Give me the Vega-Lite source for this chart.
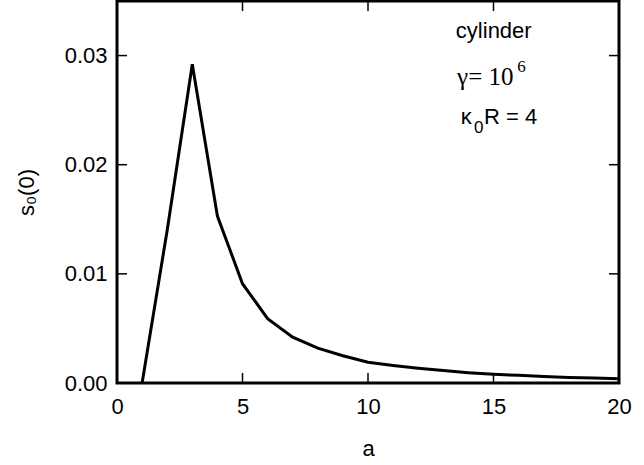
{
  "$schema": "https://vega.github.io/schema/vega-lite/v6.json",
  "width": 502,
  "height": 382,
  "autosize": {"type": "none"},
  "padding": {"left": 117, "top": 1, "right": 25, "bottom": 82},
  "background": "white",
  "config": {
    "view": {"stroke": "black", "strokeWidth": 3},
    "axis": {
      "domain": false,
      "grid": false,
      "ticks": false,
      "labelFont": "Liberation Sans",
      "labelFontSize": 22,
      "labelColor": "black",
      "titleFont": "Liberation Sans",
      "titleFontSize": 22,
      "titleFontWeight": "normal",
      "titleColor": "black",
      "labelOverlap": false,
      "labelFlush": false
    }
  },
  "datasets": {
    "curve": [
      {"a": 1, "s": 0},
      {"a": 2, "s": 0.0140},
      {"a": 3, "s": 0.0292},
      {"a": 4, "s": 0.0153},
      {"a": 5, "s": 0.0091},
      {"a": 6, "s": 0.0059},
      {"a": 7, "s": 0.0042},
      {"a": 8, "s": 0.0032},
      {"a": 9, "s": 0.0025},
      {"a": 10, "s": 0.0019},
      {"a": 11, "s": 0.0016},
      {"a": 12, "s": 0.00135},
      {"a": 13, "s": 0.00115},
      {"a": 14, "s": 0.00095},
      {"a": 15, "s": 0.0008},
      {"a": 16, "s": 0.0007},
      {"a": 17, "s": 0.0006},
      {"a": 18, "s": 0.0005},
      {"a": 19, "s": 0.00045},
      {"a": 20, "s": 0.0004}
    ],
    "xticks": [{"a": 5}, {"a": 10}, {"a": 15}],
    "yticks": [{"s": 0.01}, {"s": 0.02}, {"s": 0.03}],
    "sansNotes": [
      {"label": "cylinder", "a": 13.5, "s": 0.0316},
      {"label": "κ", "a": 13.7, "s": 0.0237},
      {"label": "R = 4", "a": 14.62, "s": 0.0237}
    ],
    "serifNotes": [
      {"label": "γ= 10", "a": 13.55, "s": 0.0273}
    ],
    "smallSerif": [
      {"label": "6", "a": 15.95, "s": 0.0285}
    ],
    "smallSans": [
      {"label": "0", "a": 14.22, "s": 0.0229}
    ]
  },
  "layer": [
    {
      "data": {"name": "curve"},
      "mark": {"type": "line", "color": "black", "strokeWidth": 3, "strokeJoin": "miter"},
      "encoding": {
        "x": {
          "field": "a", "type": "quantitative",
          "scale": {"domain": [0, 20], "nice": false, "zero": false},
          "axis": {"orient": "bottom", "values": [0, 5, 10, 15, 20], "labelPadding": 13, "title": "a", "titlePadding": 21}
        },
        "y": {
          "field": "s", "type": "quantitative",
          "scale": {"domain": [0, 0.035], "nice": false},
          "axis": {"orient": "left", "values": [0, 0.01, 0.02, 0.03], "format": ".2f", "labelPadding": 10, "title": "s₀(0)", "titlePadding": 26}
        }
      }
    },
    {
      "data": {"name": "xticks"},
      "mark": {"type": "rule", "color": "black", "strokeWidth": 1.5},
      "encoding": {
        "x": {"field": "a", "type": "quantitative",
          "axis": {"orient": "bottom", "values": [0, 5, 10, 15, 20], "labelPadding": 13, "title": "a", "titlePadding": 21}},
        "y": {"datum": 0, "type": "quantitative",
          "axis": {"orient": "left", "values": [0, 0.01, 0.02, 0.03], "format": ".2f", "labelPadding": 10, "title": "s₀(0)", "titlePadding": 26}},
        "y2": {"datum": 0.00092}
      }
    },
    {
      "data": {"name": "xticks"},
      "mark": {"type": "rule", "color": "black", "strokeWidth": 1.5},
      "encoding": {
        "x": {"field": "a", "type": "quantitative",
          "axis": {"orient": "bottom", "values": [0, 5, 10, 15, 20], "labelPadding": 13, "title": "a", "titlePadding": 21}},
        "y": {"datum": 0.035, "type": "quantitative",
          "axis": {"orient": "left", "values": [0, 0.01, 0.02, 0.03], "format": ".2f", "labelPadding": 10, "title": "s₀(0)", "titlePadding": 26}},
        "y2": {"datum": 0.03408}
      }
    },
    {
      "data": {"name": "yticks"},
      "mark": {"type": "rule", "color": "black", "strokeWidth": 1.5},
      "encoding": {
        "y": {"field": "s", "type": "quantitative",
          "axis": {"orient": "left", "values": [0, 0.01, 0.02, 0.03], "format": ".2f", "labelPadding": 10, "title": "s₀(0)", "titlePadding": 26}},
        "x": {"datum": 0, "type": "quantitative",
          "axis": {"orient": "bottom", "values": [0, 5, 10, 15, 20], "labelPadding": 13, "title": "a", "titlePadding": 21}},
        "x2": {"datum": 0.4}
      }
    },
    {
      "data": {"name": "yticks"},
      "mark": {"type": "rule", "color": "black", "strokeWidth": 1.5},
      "encoding": {
        "y": {"field": "s", "type": "quantitative",
          "axis": {"orient": "left", "values": [0, 0.01, 0.02, 0.03], "format": ".2f", "labelPadding": 10, "title": "s₀(0)", "titlePadding": 26}},
        "x": {"datum": 20, "type": "quantitative",
          "axis": {"orient": "bottom", "values": [0, 5, 10, 15, 20], "labelPadding": 13, "title": "a", "titlePadding": 21}},
        "x2": {"datum": 19.6}
      }
    },
    {
      "data": {"name": "sansNotes"},
      "mark": {"type": "text", "align": "left", "baseline": "alphabetic", "font": "Liberation Sans", "fontSize": 22, "color": "black"},
      "encoding": {
        "x": {"field": "a", "type": "quantitative",
          "axis": {"orient": "bottom", "values": [0, 5, 10, 15, 20], "labelPadding": 13, "title": "a", "titlePadding": 21}},
        "y": {"field": "s", "type": "quantitative",
          "axis": {"orient": "left", "values": [0, 0.01, 0.02, 0.03], "format": ".2f", "labelPadding": 10, "title": "s₀(0)", "titlePadding": 26}},
        "text": {"field": "label"}
      }
    },
    {
      "data": {"name": "serifNotes"},
      "mark": {"type": "text", "align": "left", "baseline": "alphabetic", "font": "Liberation Serif", "fontSize": 25, "color": "black"},
      "encoding": {
        "x": {"field": "a", "type": "quantitative",
          "axis": {"orient": "bottom", "values": [0, 5, 10, 15, 20], "labelPadding": 13, "title": "a", "titlePadding": 21}},
        "y": {"field": "s", "type": "quantitative",
          "axis": {"orient": "left", "values": [0, 0.01, 0.02, 0.03], "format": ".2f", "labelPadding": 10, "title": "s₀(0)", "titlePadding": 26}},
        "text": {"field": "label"}
      }
    },
    {
      "data": {"name": "smallSerif"},
      "mark": {"type": "text", "align": "left", "baseline": "alphabetic", "font": "Liberation Serif", "fontSize": 17, "color": "black"},
      "encoding": {
        "x": {"field": "a", "type": "quantitative",
          "axis": {"orient": "bottom", "values": [0, 5, 10, 15, 20], "labelPadding": 13, "title": "a", "titlePadding": 21}},
        "y": {"field": "s", "type": "quantitative",
          "axis": {"orient": "left", "values": [0, 0.01, 0.02, 0.03], "format": ".2f", "labelPadding": 10, "title": "s₀(0)", "titlePadding": 26}},
        "text": {"field": "label"}
      }
    },
    {
      "data": {"name": "smallSans"},
      "mark": {"type": "text", "align": "left", "baseline": "alphabetic", "font": "Liberation Sans", "fontSize": 17, "color": "black"},
      "encoding": {
        "x": {"field": "a", "type": "quantitative",
          "axis": {"orient": "bottom", "values": [0, 5, 10, 15, 20], "labelPadding": 13, "title": "a", "titlePadding": 21}},
        "y": {"field": "s", "type": "quantitative",
          "axis": {"orient": "left", "values": [0, 0.01, 0.02, 0.03], "format": ".2f", "labelPadding": 10, "title": "s₀(0)", "titlePadding": 26}},
        "text": {"field": "label"}
      }
    }
  ]
}
